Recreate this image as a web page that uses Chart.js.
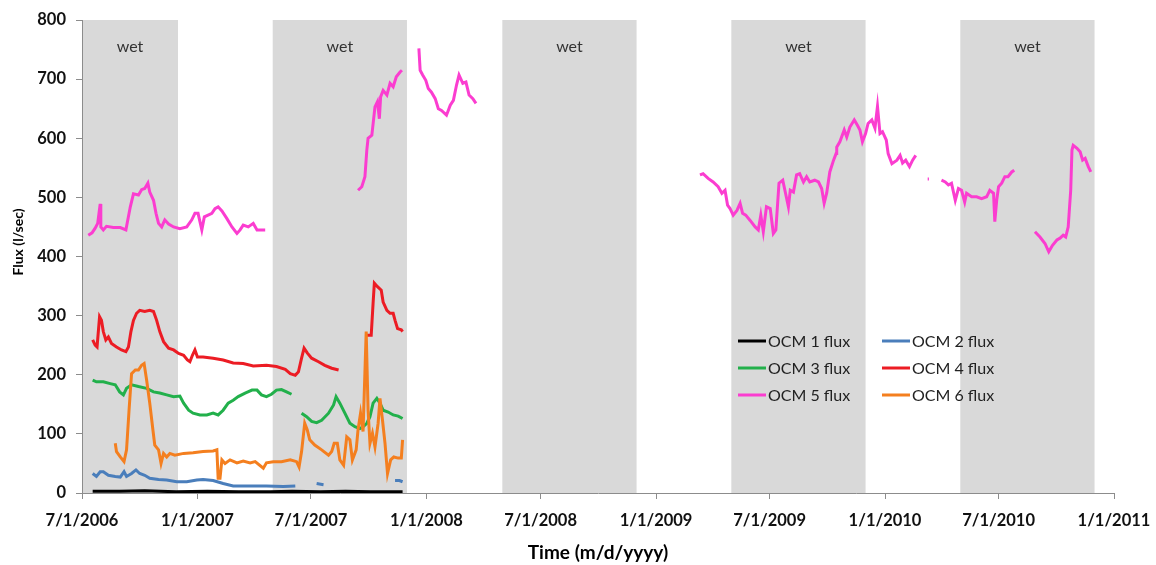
<!DOCTYPE html>
<html>
<head>
<meta charset="utf-8">
<script src="https://cdn.jsdelivr.net/npm/chart.js@4/dist/chart.umd.min.js"></script>
<style>
  html, body { margin: 0; padding: 0; background: #ffffff; }
  #wrap { width: 1156px; height: 565px; }
</style>
</head>
<body>
<div id="wrap"><canvas id="flux" width="1156" height="565"></canvas></div>
<script>
// Time axis: days counted from 1 Jul 2006.
const START_DATE = '2006-07-01';
const tickDates = ['2006-07-01', '2007-01-01', '2007-07-01', '2008-01-01', '2008-07-01',
                   '2009-01-01', '2009-07-01', '2010-01-01', '2010-07-01', '2011-01-01'];
const wetStarts = ['2006-07-01', '2007-05-01', '2008-05-01', '2009-05-01', '2010-05-01'];
const wetEnds   = ['2006-12-01', '2007-12-01', '2008-12-01', '2009-12-01', '2010-12-01'];
const seriesNames = ['OCM 1 flux', 'OCM 2 flux', 'OCM 3 flux', 'OCM 4 flux', 'OCM 5 flux', 'OCM 6 flux'];
const yTicks = [0, 100, 200, 300, 400, 500, 600, 700, 800];

// Daily flux records [day, l/sec]; a null flux marks a break in the record.
const ocm1 = [[17,3],[60,3],[100,4],[150,2],[200,3],[250,2],[300,2],[335,3],[380,2],[420,3],[460,2],[511,2]];

const ocm2 = [[17,33],[23,28],[29,36],[34,36],[42,30],[53,28],[61,27],[67,36],[71,28],[79,33],[86,39],[92,33],
  [100,30],[108,25],[122,23],[135,22],[151,19],[167,19],[183,22],[193,23],[209,21],[225,16],[241,12],[268,12],
  [294,12],[321,11],[340,12],[355,null],[374,16],[385,14],[440,null],[499,21],[506,21],[511,19]];

const ocm3 = [[17,191],[23,188],[34,188],[45,185],[53,183],[60,171],[66,166],[71,177],[79,183],[90,180],[103,177],
  [114,171],[124,169],[135,166],[146,163],[156,164],[162,152],[170,140],[177,135],[188,132],[199,132],[209,135],
  [217,132],[225,140],[233,152],[241,157],[249,163],[260,169],[271,174],[279,174],[286,166],[294,163],[302,167],
  [310,174],[318,175],[326,171],[334,167],[342,null],
  [350,135],[358,129],[366,121],[374,119],[382,123],[393,135],[401,149],[405,163],[411,152],[419,135],[427,118],
  [435,112],[443,109],[448,112],[454,118],[459,129],[464,152],[470,160],[475,152],[480,140],[488,137],[496,132],
  [504,130],[511,126]];

const ocm4 = [[17,259],[21,250],[24,247],[28,298],[31,292],[34,273],[38,259],[42,264],[47,253],[55,247],[63,242],
  [70,239],[74,247],[78,273],[82,292],[87,304],[92,309],[100,307],[108,309],[114,307],[119,292],[124,273],[130,256],
  [138,245],[146,242],[154,236],[162,233],[168,225],[172,222],[176,233],[180,242],[184,230],[193,230],[209,228],
  [225,225],[241,220],[257,219],[273,215],[294,216],[310,214],[324,209],[332,202],[340,199],[345,205],[350,228],
  [354,245],[359,237],[366,228],[377,222],[387,216],[398,211],[409,208],[430,null],
  [454,267],[461,267],[464,321],[466,355],[471,349],[477,343],[480,323],[486,309],[491,304],[496,304],[499,292],
  [503,278],[509,276],[511,273]];

const ocm5 = [[10,436],[16,440],[21,448],[25,456],[29,489],[30,450],[34,445],[39,451],[50,449],[61,449],[70,445],
  [77,484],[82,506],[90,504],[95,513],[100,515],[105,524],[108,509],[114,495],[118,473],[122,456],[127,450],
  [132,462],[138,455],[146,450],[156,447],[167,450],[175,462],[180,473],[185,473],[191,445],[195,467],[201,470],
  [207,473],[212,481],[217,484],[223,477],[231,464],[239,450],[247,439],[252,445],[257,453],[265,450],[273,456],
  [279,445],[292,445],[300,null],
  [440,512],[446,518],[451,535],[454,580],[456,600],[462,605],[467,653],[471,662],[474,633],[476,670],[480,681],
  [486,673],[491,693],[496,687],[501,704],[507,712],[510,715],[520,null],
  [537,752],[539,715],[543,707],[548,698],[552,684],[557,678],[563,667],[568,650],[573,647],[581,639],[587,656],
  [592,664],[597,690],[601,707],[607,693],[612,695],[617,673],[623,667],[628,659],[700,null],
  [985,538],[990,540],[998,532],[1006,526],[1014,518],[1020,507],[1025,512],[1029,487],[1033,481],[1038,470],
  [1044,478],[1049,490],[1053,473],[1058,470],[1065,461],[1073,450],[1078,445],[1082,470],[1086,442],[1091,484],
  [1097,481],[1102,439],[1106,445],[1111,524],[1117,529],[1121,509],[1126,484],[1129,512],[1134,509],[1139,538],
  [1144,540],[1150,526],[1155,535],[1160,526],[1168,529],[1174,526],[1179,515],[1183,490],[1187,507],[1192,543],
  [1198,563],[1202,574],[1203,585],[1208,594],[1215,614],[1219,602],[1224,619],[1231,631],[1236,622],[1240,614],
  [1244,594],[1249,608],[1253,625],[1259,631],[1264,617],[1268,654],[1272,608],[1276,611],[1282,597],[1285,574],
  [1291,557],[1299,563],[1304,571],[1308,558],[1313,563],[1319,552],[1324,563],[1329,571],[1340,null],
  [1348,531],[1350,531],[1360,null],
  [1370,529],[1376,526],[1381,521],[1386,524],[1392,495],[1397,515],[1402,512],[1407,492],[1410,507],[1418,501],
  [1426,501],[1434,498],[1442,501],[1447,512],[1453,507],[1455,459],[1458,495],[1461,518],[1466,524],[1471,535],
  [1476,535],[1482,543],[1486,546],[1500,null],
  [1519,442],[1527,433],[1535,422],[1541,408],[1547,419],[1554,428],[1559,431],[1564,436],[1568,433],[1572,450],
  [1576,512],[1578,580],[1580,588],[1586,583],[1591,577],[1595,563],[1599,566],[1604,552],[1608,543]];

const ocm6 = [[53,84],[55,70],[61,61],[67,53],[71,73],[75,140],[79,202],[85,208],[90,208],[95,216],[99,219],
  [103,191],[108,152],[113,107],[116,81],[122,73],[126,50],[130,67],[135,61],[140,67],[148,64],[162,67],[177,68],
  [193,70],[209,71],[215,73],[217,25],[220,25],[223,56],[228,50],[236,56],[247,51],[257,54],[268,51],[276,53],
  [289,42],[294,51],[305,53],[318,53],[332,56],[342,53],[346,44],[350,70],[355,118],[359,107],[363,90],[371,81],
  [382,73],[393,64],[398,70],[402,84],[407,84],[411,56],[417,47],[422,95],[427,90],[431,56],[437,73],[440,107],
  [444,135],[448,104],[453,273],[456,140],[459,84],[463,101],[467,78],[472,118],[475,160],[479,123],[483,84],
  [487,33],[492,56],[497,61],[504,59],[509,59],[511,90]];

const seriesData = [ocm1, ocm2, ocm3, ocm4, ocm5, ocm6];
const seriesColors = ['#000000', '#4a7ebb', '#22b04b', '#ec1c24', '#fb3dd0', '#f47f1f'];

const FONT = 'Lato, "Liberation Sans", Arial, sans-serif';

function dayOf(iso) {
  const p = iso.split('-').map(Number);
  const s = START_DATE.split('-').map(Number);
  return Math.round((Date.UTC(p[0], p[1] - 1, p[2]) - Date.UTC(s[0], s[1] - 1, s[2])) / 86400000);
}
function usDate(iso) {
  const p = iso.split('-').map(Number);
  return p[1] + '/' + p[2] + '/' + p[0];
}
const tickDays = tickDates.map(dayOf);

const datasets = seriesData.map((rows, i) => ({
  label: seriesNames[i],
  data: rows.map(r => ({ x: r[0], y: r[1] })),
  borderColor: seriesColors[i],
  backgroundColor: seriesColors[i],
  borderWidth: 3,
  pointRadius: 0,
  tension: 0,
  spanGaps: false,
  order: seriesData.length - i
}));

// Wet-season shading behind the data.
const wetBands = {
  id: 'wetBands',
  beforeDraw(chart) {
    const { ctx, chartArea: a, scales: { x } } = chart;
    ctx.save();
    ctx.fillStyle = '#d9d9d9';
    wetStarts.forEach((s, i) => {
      const x0 = x.getPixelForValue(dayOf(s));
      const x1 = x.getPixelForValue(dayOf(wetEnds[i]));
      ctx.fillRect(x0, a.top, x1 - x0, a.bottom - a.top);
    });
    ctx.fillStyle = '#333333';
    ctx.font = '16px ' + FONT;
    ctx.textAlign = 'center';
    ctx.textBaseline = 'middle';
    wetStarts.forEach((s, i) => {
      const xm = (x.getPixelForValue(dayOf(s)) + x.getPixelForValue(dayOf(wetEnds[i]))) / 2;
      ctx.fillText('wet', xm, a.top + 27);
    });
    ctx.restore();
  }
};

// Two-column legend inside the plot, plus axis titles.
const legendAndTitles = {
  id: 'legendAndTitles',
  afterDraw(chart) {
    const { ctx, chartArea: a } = chart;
    ctx.save();
    ctx.font = '16px ' + FONT;
    ctx.textBaseline = 'middle';
    ctx.textAlign = 'left';
    const colX = [738, 882];
    const rowY = [341, 368, 395];
    seriesNames.forEach((name, i) => {
      const cx = colX[i % 2], cy = rowY[Math.floor(i / 2)];
      ctx.strokeStyle = seriesColors[i];
      ctx.lineWidth = 3;
      ctx.beginPath();
      ctx.moveTo(cx, cy);
      ctx.lineTo(cx + 28, cy);
      ctx.stroke();
      ctx.fillStyle = '#222222';
      ctx.fillText(name, cx + 30, cy + 1);
    });
    ctx.fillStyle = '#000000';
    ctx.font = 'bold 19px ' + FONT;
    ctx.textAlign = 'center';
    ctx.fillText('Time (m/d/yyyy)', (a.left + a.right) / 2, 553);
    ctx.translate(18, 242);
    ctx.rotate(-Math.PI / 2);
    ctx.font = 'bold 14px ' + FONT;
    ctx.fillText('Flux (l/sec)', 0, 0);
    ctx.restore();
  }
};

new Chart(document.getElementById('flux'), {
  type: 'line',
  data: { datasets },
  options: {
    responsive: false,
    animation: false,
    events: [],
    layout: { padding: { top: 20, right: 42, left: 0, bottom: 0 } },
    plugins: { legend: { display: false }, tooltip: { enabled: false } },
    scales: {
      x: {
        type: 'linear',
        min: tickDays[0],
        max: tickDays[tickDays.length - 1],
        afterBuildTicks(axis) { axis.ticks = tickDays.map(v => ({ value: v })); },
        afterFit(axis) { axis.height = 72; axis.paddingLeft = 0; axis.paddingRight = 0; },
        ticks: {
          autoSkip: false,
          maxRotation: 0,
          padding: 12,
          color: '#111111',
          font: { family: FONT, size: 16.5, weight: 'bold' },
          callback(v) { const k = tickDays.indexOf(v); return k >= 0 ? usDate(tickDates[k]) : ''; }
        },
        grid: { drawOnChartArea: false, drawTicks: true, tickLength: 6, color: '#8c8c8c' },
        border: { display: true, color: '#8c8c8c', width: 1 }
      },
      y: {
        min: 0,
        max: 800,
        afterBuildTicks(axis) { axis.ticks = yTicks.map(v => ({ value: v })); },
        afterFit(axis) { axis.width = 82; axis.paddingTop = 0; axis.paddingBottom = 0; },
        ticks: {
          padding: 10,
          color: '#111111',
          font: { family: FONT, size: 16.5, weight: 'bold' }
        },
        grid: { drawOnChartArea: false, drawTicks: true, tickLength: 6, color: '#8c8c8c' },
        border: { display: true, color: '#8c8c8c', width: 1 }
      }
    }
  },
  plugins: [wetBands, legendAndTitles]
});
</script>
</body>
</html>
